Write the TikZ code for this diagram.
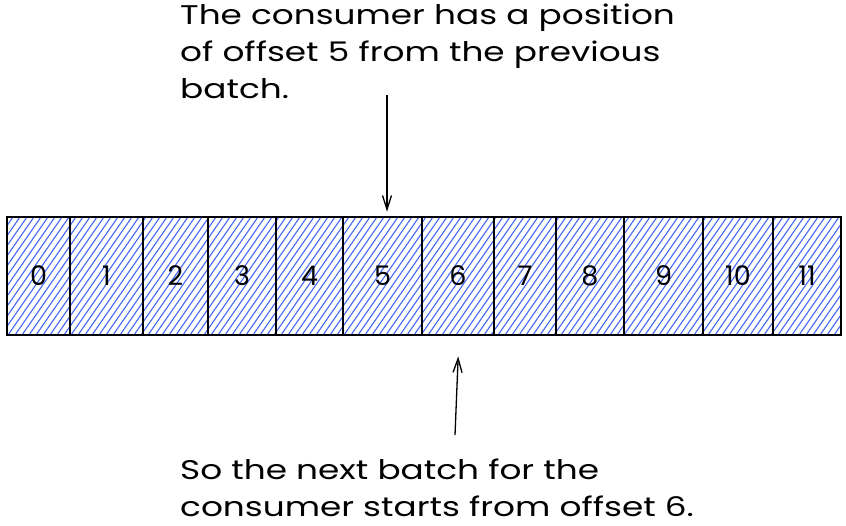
\documentclass[tikz,border=0pt]{standalone}
\usepackage{fontspec}
\setmainfont{Poppins}
\newfontfamily\notefont{Poppins}[FakeStretch=1.27]
\usetikzlibrary{arrows.meta}
\definecolor{hatchblue}{RGB}{70,104,245}
\tikzset{
  cell/.style={draw=black, line width=2.8pt, inner sep=0pt, minimum height=118pt,
    font=\fontsize{27}{30}\selectfont},
  hatch/.style={draw=hatchblue, line width=1.1pt},
  note/.style={align=left, inner sep=0pt, anchor=north west, font=\notefont\fontsize{27}{37}\selectfont},
  arr/.style={line width=1.3pt, -{Straight Barb[length=14pt,width=9pt,line width=1.3pt]}}
}
\begin{document}
\begin{tikzpicture}[x=1pt,y=-1pt]
\fill[white] (0,0) rectangle (846,525);
\useasboundingbox (0,0) rectangle (846,525);
\begin{scope}
  \clip (7,217) rectangle (841,335);
  \foreach \k in {-90,-83,...,850}{
    \draw[hatch] (\k,335) -- ++(82,-118);
  }
\end{scope}
\foreach \i/\a/\b in {0/7/70,1/70/143,2/143/208,3/208/276,4/276/343,5/343/422,6/422/494,7/494/556,8/556/624,9/624/703,10/703/773,11/773/841}{
  \node[cell, minimum width={(\b-\a)*1pt}] (c\i) at ({(\a+\b)/2},276) {\i};
}
\node[note] (tx1) at (180,4) {The consumer has a position\\of offset 5 from the previous\\batch.};
\node[note] (tx2) at (180,459) {So the next batch for the\\consumer starts from offset 6.};
\coordinate (t1) at (387,95);
\coordinate (b1) at (455,435);
\draw[arr, shorten >=4pt] (t1) -- (t1 |- c5.north);
\draw[arr, shorten >=20pt] (b1) -- ([xshift=4pt]b1 |- c6.south);
\end{tikzpicture}
\end{document}
